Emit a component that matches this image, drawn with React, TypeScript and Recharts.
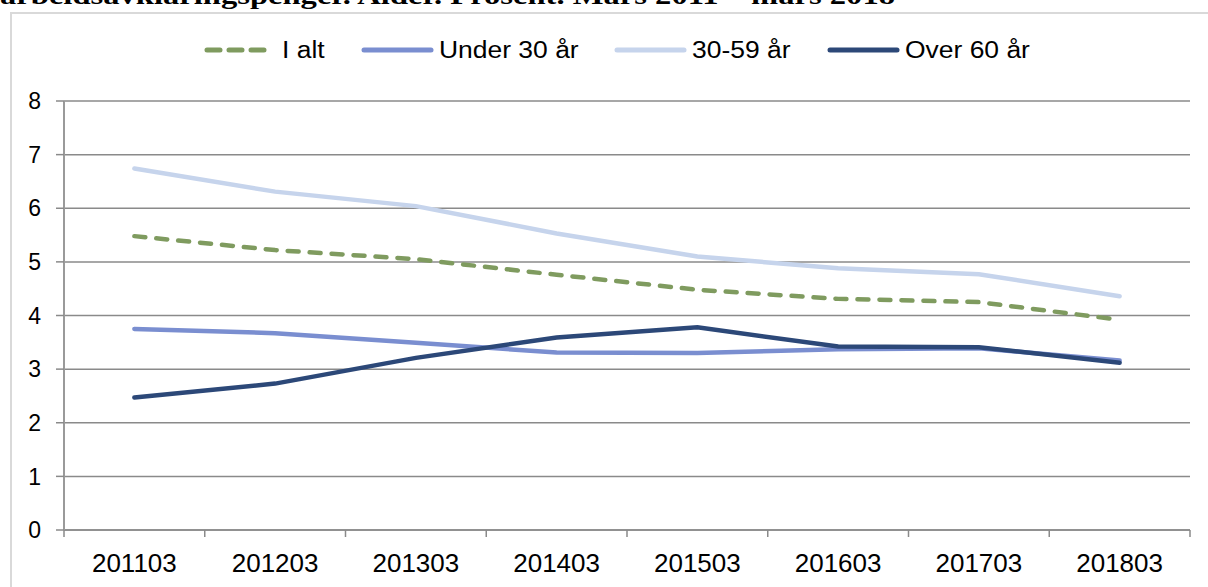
import React from 'react';
import { LineChart, Line, XAxis, YAxis, CartesianGrid } from 'recharts';

const CATEGORIES = ['201103', '201203', '201303', '201403', '201503', '201603', '201703', '201803'];
const I_ALT = [5.48, 5.22, 5.05, 4.76, 4.48, 4.31, 4.25, 3.92];
const UNDER_30 = [3.75, 3.67, 3.49, 3.31, 3.3, 3.37, 3.39, 3.16];
const AGE_30_59 = [6.74, 6.31, 6.04, 5.53, 5.1, 4.88, 4.77, 4.36];
const OVER_60 = [2.47, 2.73, 3.21, 3.59, 3.78, 3.42, 3.41, 3.12];
const Y_TICKS = [0, 1, 2, 3, 4, 5, 6, 7, 8];

const TITLE = 'arbeidsavklaringspenger. Alder. Prosent. Mars 2011 – mars 2018';

const SERIES = [
  { key: 'iAlt', name: 'I alt', color: '#7f9b5f', dash: '11 11' },
  { key: 'under30', name: 'Under 30 år', color: '#7a8ed0', dash: undefined },
  { key: 'age3059', name: '30-59 år', color: '#c6d4ec', dash: undefined },
  { key: 'over60', name: 'Over 60 år', color: '#2c4878', dash: undefined },
];

const data = CATEGORIES.map((period, i) => ({
  period,
  iAlt: I_ALT[i],
  under30: UNDER_30[i],
  age3059: AGE_30_59[i],
  over60: OVER_60[i],
}));

const W = 1208;
const H = 587;
const PLOT_LEFT = 64;
const PLOT_RIGHT = 1190;
const HALF_BAND = (PLOT_RIGHT - PLOT_LEFT) / CATEGORIES.length / 2;
const GRID = '#8a8a8a';
const FONT = '"Liberation Sans", Arial, sans-serif';

// legend item left edges (line sample start)
const LEGEND_X = [205, 362, 615, 828];

function XTick(props: any) {
  const { x, y, payload, index } = props;
  const last = index === CATEGORIES.length - 1;
  return (
    <g>
      <line x1={x - HALF_BAND} x2={x - HALF_BAND} y1={y} y2={y + 7} stroke={GRID} strokeWidth={1.5} />
      {last && (
        <line x1={x + HALF_BAND} x2={x + HALF_BAND} y1={y} y2={y + 7} stroke={GRID} strokeWidth={1.5} />
      )}
      <text x={x} y={y + 42} textAnchor="middle" fontSize={26} fontFamily={FONT} fill="#000">
        {payload.value}
      </text>
    </g>
  );
}

function ChartLegend() {
  return (
    <svg width={W} height={30} style={{ position: 'absolute', left: 0, top: 35 }}>
      {SERIES.map((s, i) => (
        <g key={s.key}>
          <line
            x1={LEGEND_X[i] + 2}
            x2={LEGEND_X[i] + (s.dash ? 60 : 69)}
            y1={15}
            y2={15}
            stroke={s.color}
            strokeWidth={5}
            strokeLinecap="round"
            strokeDasharray={s.dash ? '13 9' : undefined}
          />
          <text
            transform={`translate(${LEGEND_X[i] + 77}, 23) scale(1.08, 1)`}
            fontSize={24.5}
            fontFamily={FONT}
            fill="#000"
          >
            {s.name}
          </text>
        </g>
      ))}
    </svg>
  );
}

export default function App() {
  return (
    <div style={{ position: 'absolute', left: 0, top: 0, width: W, height: H, background: '#fff', overflow: 'hidden' }}>
      <div
        style={{
          position: 'absolute',
          left: 10,
          top: 12,
          width: W,
          height: H,
          border: '2px solid #d9d9d9',
          boxSizing: 'border-box',
        }}
      />
      <svg width={W} height={12} style={{ position: 'absolute', left: 0, top: 0 }}>
        <text
          x={0}
          y={4}
          fontSize={26}
          fontWeight="bold"
          fontFamily='"Liberation Serif", "Times New Roman", serif'
          textLength={895}
          lengthAdjust="spacingAndGlyphs"
          fill="#000"
        >
          {TITLE}
        </text>
      </svg>
      <ChartLegend />
      <div style={{ position: 'absolute', left: 0, top: 0 }}>
        <LineChart width={W} height={H} data={data} margin={{ top: 101, right: W - PLOT_RIGHT, bottom: 17, left: 0 }}>
          <CartesianGrid vertical={false} stroke={GRID} strokeWidth={1.5} />
          <XAxis
            dataKey="period"
            height={40}
            padding={{ left: HALF_BAND, right: HALF_BAND }}
            tick={<XTick />}
            tickLine={false}
            tickSize={0}
            tickMargin={0}
            axisLine={{ stroke: GRID, strokeWidth: 1.5 }}
            interval={0}
          />
          <YAxis
            width={PLOT_LEFT}
            domain={[0, 8]}
            ticks={Y_TICKS}
            interval={0}
            tickSize={8}
            tickMargin={15}
            tickLine={{ stroke: GRID, strokeWidth: 1.5 }}
            axisLine={{ stroke: '#9a9a9a', strokeWidth: 2 }}
            tick={{ fontSize: 23, fill: '#000', fontFamily: FONT }}
          />
          {SERIES.map((s) => (
            <Line
              key={s.key}
              dataKey={s.key}
              name={s.name}
              type="linear"
              stroke={s.color}
              strokeWidth={4.5}
              strokeDasharray={s.dash}
              strokeLinecap="round"
              dot={false}
              activeDot={false}
              isAnimationActive={false}
            />
          ))}
        </LineChart>
      </div>
    </div>
  );
}
